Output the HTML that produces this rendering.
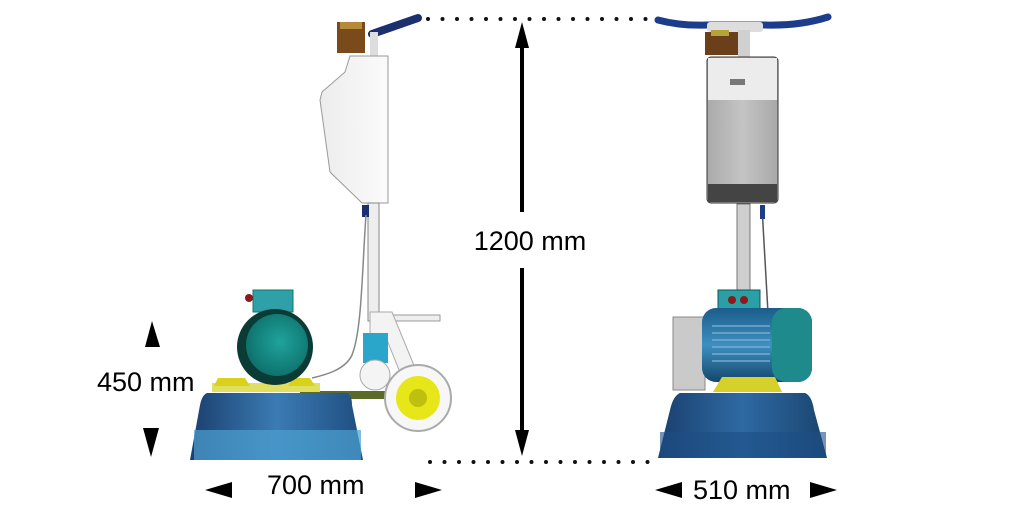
<!DOCTYPE html>
<html><head><meta charset="utf-8"><style>
html,body{margin:0;padding:0;background:#fff;}
svg{display:block;}
text{font-family:"Liberation Sans",Arial,sans-serif;fill:#000;}
</style></head><body>
<svg width="1024" height="512" viewBox="0 0 1024 512" xmlns="http://www.w3.org/2000/svg">
<defs>
<linearGradient id="base" x1="0" y1="0" x2="1" y2="0">
<stop offset="0" stop-color="#1a3f6e"/><stop offset="0.5" stop-color="#3b7bb3"/><stop offset="1" stop-color="#1e4d80"/></linearGradient>
<linearGradient id="baseR" x1="0" y1="0" x2="1" y2="0">
<stop offset="0" stop-color="#1a3f6e"/><stop offset="0.5" stop-color="#2e6aa3"/><stop offset="1" stop-color="#1a446f"/></linearGradient>
<linearGradient id="tank" x1="0" y1="0" x2="1" y2="0">
<stop offset="0" stop-color="#ececec"/><stop offset="1" stop-color="#fbfbfb"/></linearGradient>
<radialGradient id="motor" cx="0.55" cy="0.45" r="0.6"><stop offset="0" stop-color="#1fa39b"/><stop offset="1" stop-color="#0d6e6a"/></radialGradient>
<linearGradient id="mR" x1="0" y1="0" x2="0" y2="1"><stop offset="0" stop-color="#1b5d8a"/><stop offset="0.5" stop-color="#3e8fc0"/><stop offset="1" stop-color="#14486c"/></linearGradient>
<linearGradient id="gr" x1="0" y1="0" x2="1" y2="0"><stop offset="0" stop-color="#aaa"/><stop offset="0.5" stop-color="#c4c4c4"/><stop offset="1" stop-color="#a8a8a8"/></linearGradient>
</defs>

<line x1="428" y1="19" x2="650" y2="19" stroke="#111" stroke-width="4" stroke-linecap="round" stroke-dasharray="0 14.5"/>
<line x1="430" y1="462" x2="650" y2="462" stroke="#111" stroke-width="4" stroke-linecap="round" stroke-dasharray="0 14.5"/>

<line x1="522" y1="40" x2="522" y2="212" stroke="#000" stroke-width="4"/>
<line x1="522" y1="268" x2="522" y2="440" stroke="#000" stroke-width="4"/>
<polygon points="522,22 515,48 529,48" fill="#000"/>
<polygon points="522,456 515,430 529,430" fill="#000"/>
<text x="530" y="250" font-size="27" text-anchor="middle">1200 mm</text>

<polygon points="152,321 145,347 160,347" fill="#000"/>
<polygon points="151,457 143,428 159,428" fill="#000"/>
<text x="97" y="391" font-size="27">450 mm</text>

<polygon points="205,490 232,482 232,498" fill="#000"/>
<polygon points="442,490 415,482 415,498" fill="#000"/>
<text x="267" y="494" font-size="27">700 mm</text>

<polygon points="655,490 682,482 682,498" fill="#000"/>
<polygon points="837,490 810,482 810,498" fill="#000"/>
<text x="693" y="499" font-size="27">510 mm</text>

<!-- LEFT MACHINE -->
<path d="M372,34 L418,18" stroke="#1c2f6e" stroke-width="8" stroke-linecap="round"/>
<rect x="370" y="32" width="8" height="24" fill="#ddd"/>
<rect x="337" y="22" width="28" height="31" fill="#7a4a1a"/>
<rect x="340" y="22" width="22" height="7" fill="#b58a3a"/>
<path d="M350,56 L388,56 L388,203 L362,203 L330,172 L320,100 L322,92 L345,72 Z" fill="url(#tank)" stroke="#999" stroke-width="1"/>
<rect x="368" y="203" width="11" height="118" fill="#eee" stroke="#888" stroke-width="1"/>
<rect x="362" y="205" width="7" height="12" fill="#1c2f6e"/>
<path d="M366,215 C362,270 362,330 352,355 C345,370 325,375 312,378" fill="none" stroke="#888" stroke-width="1.5"/>
<rect x="386" y="315" width="54" height="6" fill="#eee" stroke="#999" stroke-width="1"/>
<path d="M370,312 L392,312 L420,380 L405,385 L385,335 L370,335 Z" fill="#f3f3f3" stroke="#aaa" stroke-width="1"/>
<rect x="363" y="333" width="25" height="30" fill="#29a6c9"/>
<circle cx="375" cy="375" r="15" fill="#f4f4f4" stroke="#aaa" stroke-width="1"/>
<rect x="300" y="391" width="90" height="8" fill="#5b6a28"/>
<circle cx="418" cy="398" r="33" fill="#f7f7f7" stroke="#aaa" stroke-width="2"/>
<circle cx="418" cy="398" r="22" fill="#e6e619"/>
<circle cx="418" cy="398" r="9" fill="#bfbf10"/>
<path d="M207,393 L347,393 Q352,395 352,405 L363,460 L190,460 L200,405 Q202,395 207,393 Z" fill="url(#base)"/>
<rect x="194" y="430" width="167" height="30" fill="#4da1d1" opacity="0.7"/>
<rect x="212" y="383" width="108" height="9" fill="#e0e060"/>
<path d="M218,378 L245,378 L250,386 L214,386Z" fill="#d9d11a"/>
<path d="M292,378 L310,378 L315,386 L288,386Z" fill="#d9d11a"/>
<rect x="253" y="290" width="40" height="22" fill="#2fa0a8" stroke="#176" stroke-width="1"/>
<circle cx="249" cy="298" r="4" fill="#8a1a1a"/>
<circle cx="275" cy="347" r="38" fill="#0b3b35"/>
<circle cx="277" cy="345" r="31" fill="url(#motor)"/>

<!-- RIGHT MACHINE -->
<path d="M658,20 Q680,26 707,25 L765,25 Q800,26 828,17" fill="none" stroke="#1c3c8c" stroke-width="7" stroke-linecap="round"/>
<rect x="707" y="22" width="56" height="10" rx="3" fill="#ddd"/>
<rect x="705" y="32" width="33" height="23" fill="#6a3f1a"/>
<rect x="711" y="30" width="18" height="6" fill="#b5a33a"/>
<rect x="738" y="30" width="12" height="28" fill="#d0d0d0"/>
<rect x="707" y="57" width="71" height="146" rx="4" fill="url(#gr)" stroke="#333" stroke-width="1"/>
<rect x="708" y="58" width="69" height="42" fill="#ececec"/>
<rect x="708" y="184" width="69" height="18" fill="#444"/>
<rect x="730" y="79" width="15" height="6" fill="#777"/>
<rect x="737" y="204" width="13" height="90" fill="#cfcfcf" stroke="#777" stroke-width="1"/>
<line x1="762" y1="207" x2="768" y2="313" stroke="#555" stroke-width="1.5"/>
<rect x="760" y="205" width="5" height="14" fill="#1c3c8c"/>
<rect x="718" y="290" width="42" height="23" fill="#2a9fa6" stroke="#155" stroke-width="1"/>
<circle cx="732" cy="300" r="4" fill="#8b1a1a"/><circle cx="744" cy="300" r="4" fill="#8b1a1a"/>
<rect x="673" y="317" width="32" height="73" fill="#cacaca" stroke="#888" stroke-width="1"/>
<rect x="702" y="308" width="110" height="74" rx="14" fill="url(#mR)"/>
<rect x="772" y="308" width="40" height="74" rx="14" fill="#1e8a8c"/>
<g stroke="#7fb5d8" stroke-width="1.2">
<line x1="712" y1="326" x2="770" y2="326"/><line x1="712" y1="333" x2="770" y2="333"/>
<line x1="712" y1="340" x2="770" y2="340"/><line x1="712" y1="347" x2="770" y2="347"/>
<line x1="712" y1="354" x2="770" y2="354"/><line x1="712" y1="361" x2="770" y2="361"/></g>
<path d="M722,377 L775,377 L782,392 L713,392 Z" fill="#d6d12a"/>
<path d="M680,393 L805,393 Q812,396 814,410 L827,458 L658,458 L670,410 Q673,396 680,393 Z" fill="url(#baseR)"/>
<rect x="660" y="432" width="166" height="26" fill="#1d4f85" opacity="0.6"/>
</svg>
</body></html>
